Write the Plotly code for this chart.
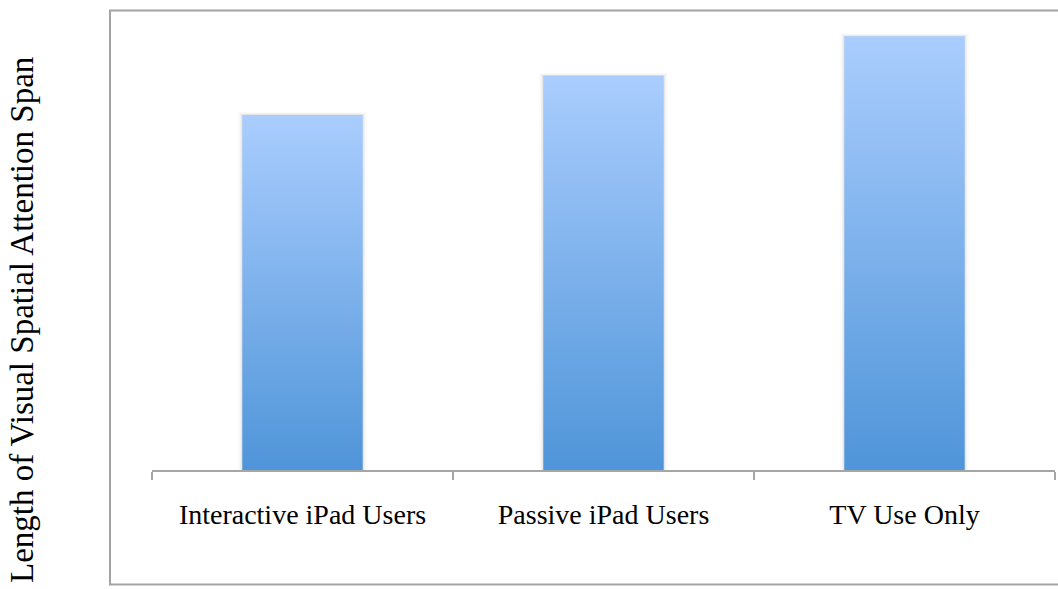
import plotly.graph_objects as go

categories = ["Interactive iPad Users", "Passive iPad Users", "TV Use Only"]
values = [7.72, 8.57, 9.43]
y_title = "Length of Visual Spatial Attention Span"

y_max = 10.0
bar_width = 0.40
grad_top = "#aacdfe"
grad_bottom = "#4f95d9"
axis_grey = "#a6a6a6"
serif = "Liberation Serif"

fig = go.Figure()

# invisible bars to drive the category axis (ticks on boundaries + labels)
fig.add_trace(go.Bar(x=categories, y=values, marker_color="rgba(0,0,0,0)",
                     hoverinfo="skip", showlegend=False))

hw = bar_width / 2
for i, v in enumerate(values):
    # soft shadow layers
    for pad_x, pad_y, alpha in [(0.014, 0.06, 0.02), (0.008, 0.035, 0.03), (0.004, 0.015, 0.04)]:
        fig.add_trace(go.Scatter(
            x=[i - hw - pad_x, i + hw + pad_x, i + hw + pad_x, i - hw - pad_x, i - hw - pad_x],
            y=[0, 0, v + pad_y, v + pad_y, 0],
            xaxis="x2", mode="lines", line=dict(width=0), fill="toself",
            fillcolor=f"rgba(0,0,0,{alpha})", hoverinfo="skip", showlegend=False))
    fig.add_trace(go.Scatter(
        x=[i - hw, i + hw, i + hw, i - hw, i - hw],
        y=[0, 0, v, v, 0],
        xaxis="x2", mode="lines", line=dict(width=0), fill="toself",
        fillgradient=dict(type="vertical", start=0, stop=v,
                          colorscale=[[0, grad_bottom], [1, grad_top]]),
        hoverinfo="skip", showlegend=False))

W, H = 1058, 589
L, R, T, B = 152, 3, 10, 119
pw, ph = W - L - R, H - T - B

def px_x(p):
    return (p - L) / pw

def px_y(p):
    return (H - B - p) / ph

fig.update_layout(
    width=W, height=H,
    margin=dict(l=L, r=R, t=T, b=B),
    paper_bgcolor="white", plot_bgcolor="white",
    showlegend=False,
    bargap=0.6,
    xaxis=dict(type="category", tickson="boundaries", ticks="outside", ticklen=8,
               tickwidth=1.5, tickcolor=axis_grey, showline=True, linecolor=axis_grey,
               linewidth=1.5, showgrid=False, zeroline=False,
               tickfont=dict(family=serif, size=28, color="black"),
               ticklabelstandoff=19, range=[-0.5, 2.5]),
    xaxis2=dict(overlaying="x", range=[-0.5, 2.5], visible=False),
    yaxis=dict(range=[0, y_max], visible=False, showgrid=False, zeroline=False),
    shapes=[dict(type="rect", xref="paper", yref="paper",
                 x0=px_x(110), x1=px_x(1070), y0=px_y(584.5), y1=px_y(10.5),
                 line=dict(color="#a3a3a3", width=2), layer="below")],
    annotations=[dict(text=y_title, textangle=-90, xref="paper", yref="paper",
                      x=px_x(22), y=px_y(320), xanchor="center", yanchor="middle",
                      showarrow=False, font=dict(family=serif, size=33, color="black"))],
)

fig.write_html("out.html")
